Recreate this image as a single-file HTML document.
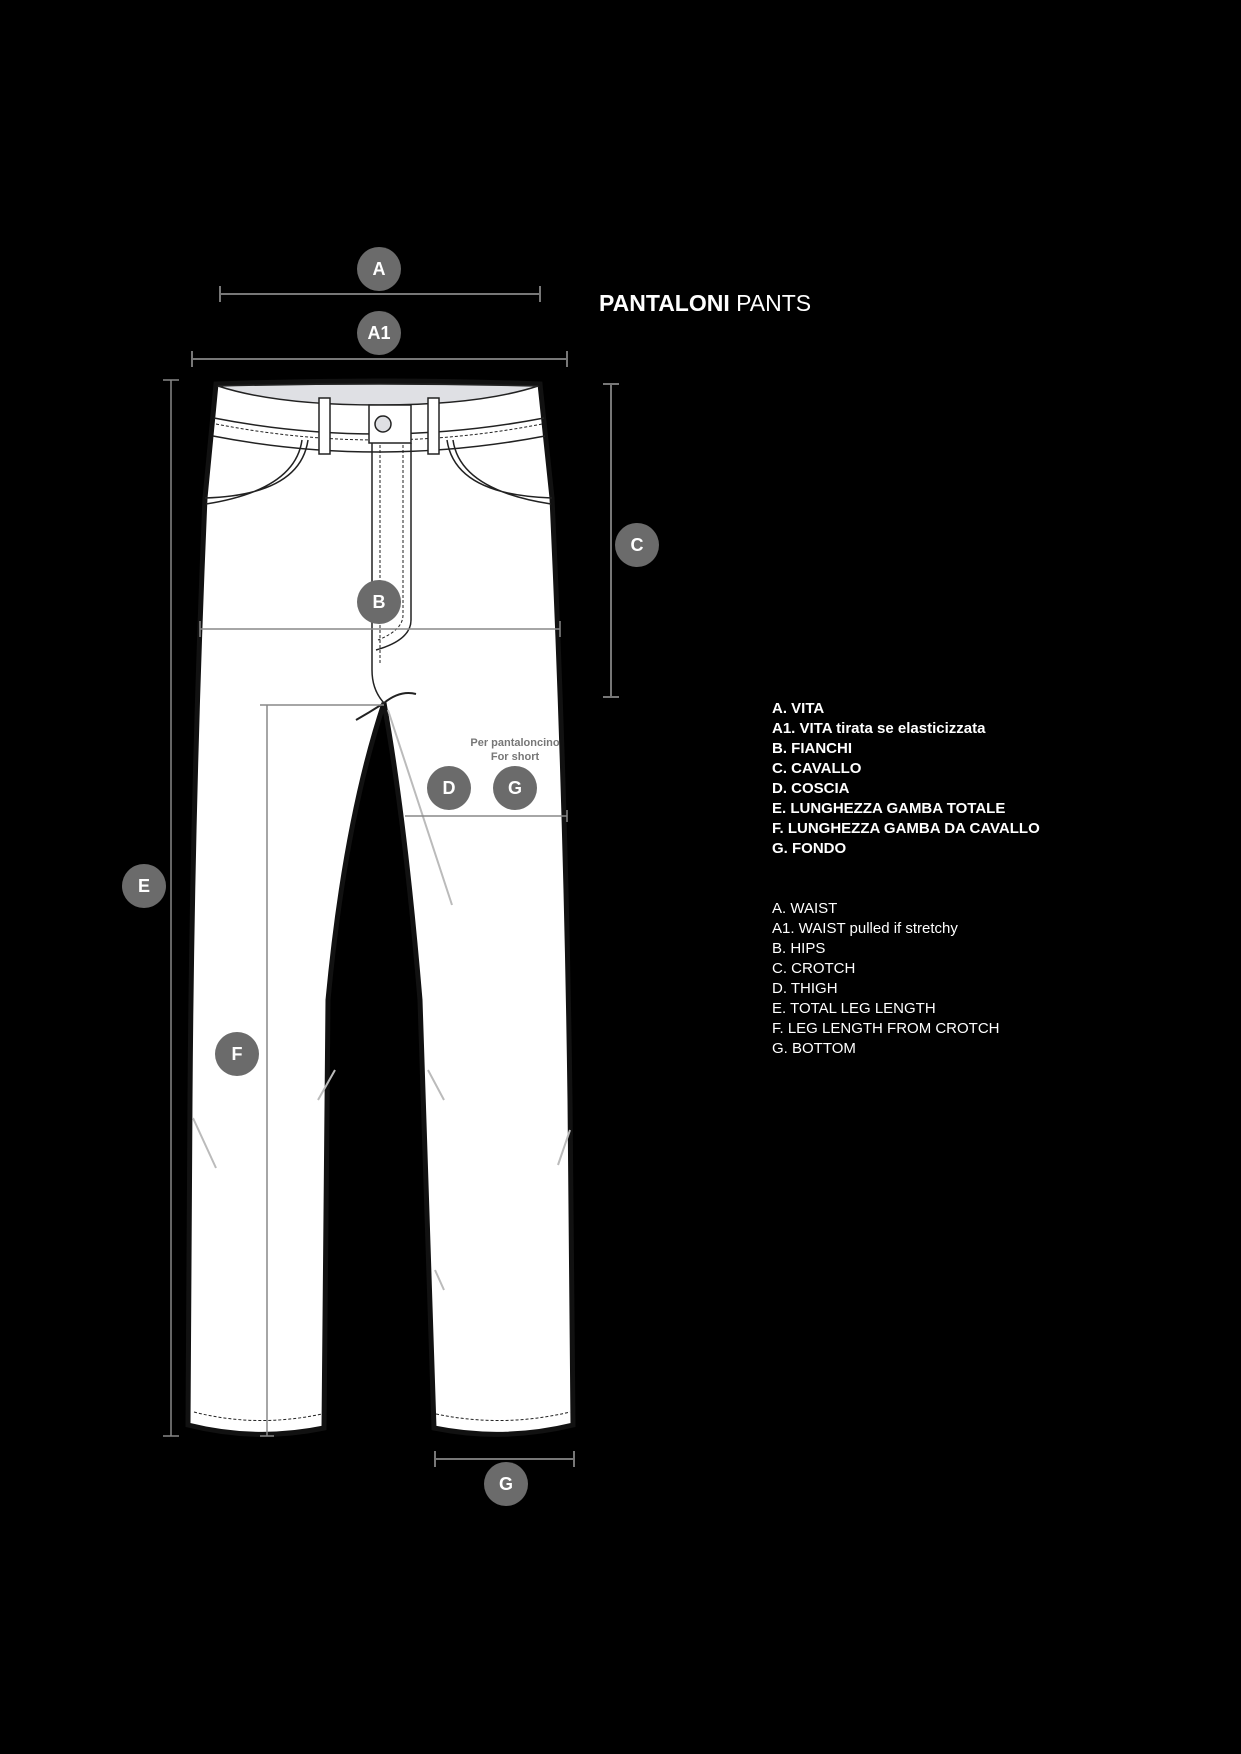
<!DOCTYPE html>
<html><head><meta charset="utf-8"><style>
html,body{margin:0;padding:0;background:#000;}
body{width:1241px;height:1754px;overflow:hidden;position:relative;font-family:"Liberation Sans",sans-serif;}
.t{position:absolute;color:#fff;font-size:15px;line-height:20px;left:772px;}
.b{font-weight:bold;}
</style></head><body>
<svg width="1241" height="1754" viewBox="0 0 1241 1754" style="position:absolute;left:0;top:0">
<g fill="none" stroke="#777" stroke-width="2">
 <path d="M220 294H540M220 286v16M540 286v16"/>
 <path d="M192 359H567M192 351v16M567 351v16"/>
 <path d="M611 384V697M603 384h16M603 697h16"/>
</g>
<!-- pants -->
<path d="M216 384 L205 498 Q192 800 190 1100 L188 1425 Q256 1442 324 1428 L328 1000 Q345 820 384 703 Q405 820 420 1000 L434 1428 Q503 1442 573 1425 L570 1100 Q566 800 552 498 L540 384 Q378 378 216 384 Z" fill="#fff" stroke="#111" stroke-width="5"/>
<path d="M218 386 Q378 382 538 386 Q480 405 378 405 Q276 405 218 386Z" fill="#dfe0e4" stroke="#222" stroke-width="1.5"/>
<g fill="none" stroke="#222" stroke-width="1.5">
 <path d="M214 418 Q378 450 544 418M213 436 Q378 468 545 436"/>
 <path d="M216 424 Q378 456 542 424" stroke-dasharray="3 2" stroke-width="1"/>
 <rect x="319" y="398" width="11" height="56" fill="#fff"/>
 <rect x="428" y="398" width="11" height="56" fill="#fff"/>
 <rect x="369" y="405" width="42" height="38" fill="#fff"/>
 <path d="M372 443 V670 Q372 690 384 703 M411 443 V620 Q411 640 376 650"/>
 <path d="M380 445 V665 M403 445 V615 Q403 630 378 640" stroke-dasharray="3 2" stroke-width="1"/>
 <path d="M308 440 Q300 495 205 498 M302 440 Q295 490 206 504" />
 <path d="M447 440 Q455 495 552 498 M453 440 Q460 490 551 504"/>
 <path d="M194 1412 Q256 1428 322 1414 M436 1414 Q503 1428 570 1412" stroke-dasharray="3 2" stroke-width="1"/>
 <path d="M384 703 Q400 690 416 694M384 703 Q370 712 356 720" stroke-width="2"/>
</g>
<circle cx="383" cy="424" r="8" fill="#dfe0e4" stroke="#222" stroke-width="1.5"/>
<g stroke="#bbb" stroke-width="2" fill="none">
 <path d="M388 710 L452 905M193 1118 L216 1168M570 1130 L558 1165M335 1070 L318 1100M428 1070 L444 1100M435 1270 L444 1290"/>
</g>
<g fill="none" stroke="#888" stroke-width="1.5">
 <path d="M171 380V1436M163 380h16M163 1436h16"/>
 <path d="M267 705V1436M260 705h124M260 1436h14"/>
 <path d="M200 629H560M200 621v16M560 621v16"/>
 <path d="M405 816H567M567 810v12"/>
</g>
<g fill="none" stroke="#777" stroke-width="2"><path d="M435 1459H574M435 1451v16M574 1451v16"/></g>
<g fill="#6b6b6b">
 <circle cx="379" cy="269" r="22"/><circle cx="379" cy="333" r="22"/>
 <circle cx="637" cy="545" r="22"/><circle cx="379" cy="602" r="22"/>
 <circle cx="449" cy="788" r="22"/><circle cx="515" cy="788" r="22"/>
 <circle cx="144" cy="886" r="22"/><circle cx="237" cy="1054" r="22"/>
 <circle cx="506" cy="1484" r="22"/>
</g>
<g fill="#fff" font-family="Liberation Sans, sans-serif" font-weight="bold" font-size="18" text-anchor="middle">
 <text x="379" y="275">A</text><text x="379" y="339">A1</text>
 <text x="637" y="551">C</text><text x="379" y="608">B</text>
 <text x="449" y="794">D</text><text x="515" y="794">G</text>
 <text x="144" y="892">E</text><text x="237" y="1060">F</text>
 <text x="506" y="1490">G</text>
</g>
<g fill="#777" font-family="Liberation Sans, sans-serif" font-weight="bold" font-size="11" text-anchor="middle">
 <text x="515" y="746">Per pantaloncino</text><text x="515" y="760">For short</text>
</g>
<text x="599" y="311" fill="#fff" font-family="Liberation Sans, sans-serif" font-size="23"><tspan font-weight="bold">PANTALONI</tspan> PANTS</text>
</svg>
<div class="t b" style="top:699px">A. VITA<br>A1. VITA tirata se elasticizzata<br>B. FIANCHI<br>C. CAVALLO<br>D. COSCIA<br>E. LUNGHEZZA GAMBA TOTALE<br>F. LUNGHEZZA GAMBA DA CAVALLO<br>G. FONDO</div>
<div class="t" style="top:899px">A. WAIST<br>A1. WAIST pulled if stretchy<br>B. HIPS<br>C. CROTCH<br>D. THIGH<br>E. TOTAL LEG LENGTH<br>F. LEG LENGTH FROM CROTCH<br>G. BOTTOM</div>
</body></html>
